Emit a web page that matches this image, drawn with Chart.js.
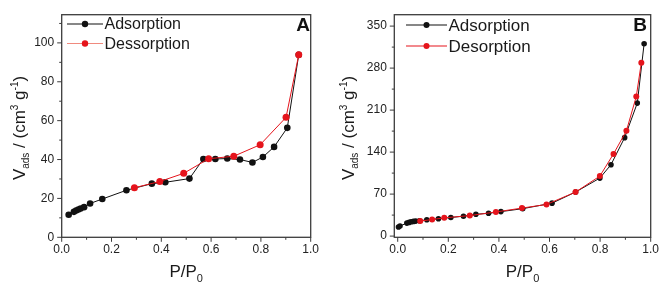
<!DOCTYPE html>
<html><head><meta charset="utf-8">
<script src="https://cdn.jsdelivr.net/npm/chart.js@4/dist/chart.umd.min.js"></script>
<style>
html,body{margin:0;padding:0;background:#fff;}
#wrap{position:relative;width:667px;height:288px;overflow:hidden;}
#ca{position:absolute;left:0;top:0;}
#cb{position:absolute;left:330px;top:0;}
</style></head><body>
<div id="wrap">
<canvas id="ca" width="330" height="288"></canvas>
<canvas id="cb" width="337" height="288"></canvas>
</div>
<script>
// ---- tick labels ----
const xTicks = [0, 0.2, 0.4, 0.6, 0.8, 1.0];
const xMinor = [0.1, 0.3, 0.5, 0.7, 0.9];
const aYTicks = [0, 20, 40, 60, 80, 100];
const aYMinor = [10, 30, 50, 70, 90, 110];
const bYTicks = [0, 70, 140, 210, 280, 350];
const bYMinor = [35, 105, 175, 245, 315];

// ---- panel A ----
const aAdsX = [0.028, 0.049, 0.058, 0.067, 0.076, 0.090, 0.114, 0.163, 0.260, 0.362, 0.416, 0.513, 0.569, 0.617, 0.665, 0.716, 0.766, 0.808, 0.853, 0.906, 0.952];
const aAdsY = [11.6, 13.1, 13.8, 14.3, 14.8, 15.5, 17.4, 19.7, 24.2, 27.6, 28.3, 30.2, 40.3, 40.3, 40.5, 40.0, 38.5, 41.3, 46.5, 56.3, 93.9];
const aDesX = [0.952, 0.901, 0.797, 0.691, 0.590, 0.490, 0.394, 0.292];
const aDesY = [93.9, 61.7, 47.6, 41.7, 40.4, 32.9, 28.7, 25.5];

// ---- panel B ----
const bAdsX = [0.003, 0.009, 0.036, 0.045, 0.053, 0.062, 0.071, 0.086, 0.115, 0.161, 0.210, 0.260, 0.309, 0.359, 0.408, 0.494, 0.610, 0.703, 0.799, 0.843, 0.897, 0.947, 0.974];
const bAdsY = [15.2, 16.8, 21.7, 22.8, 23.9, 24.5, 25.0, 25.5, 27.2, 28.8, 31.0, 33.2, 36.4, 38.0, 40.8, 45.7, 54.9, 73.4, 96.7, 119.0, 164.1, 221.7, 320.7];
const bDesX = [0.963, 0.943, 0.904, 0.853, 0.799, 0.703, 0.588, 0.491, 0.388, 0.285, 0.184, 0.136, 0.089];
const bDesY = [289.1, 232.6, 175.5, 137.0, 100.0, 73.4, 52.7, 46.7, 40.2, 34.2, 30.4, 27.7, 25.0];

const labelsA = ['Adsorption', 'Dessorption'];
const labelsB = ['Adsorption', 'Desorption'];

const FONT = '"Liberation Sans", Arial, sans-serif';
const BLACK = '#111111';
const RED = '#e5141c';
const AXIS = '#3c3c3c';

function pts(xs, ys){ return xs.map((x,i)=>({x:x, y:ys[i]})); }

function drawRich(ctx, segs, x, y){
  let total = 0;
  segs.forEach(s=>{ ctx.font = (s.bold?'bold ':'') + s.s + 'px ' + FONT; s.w = ctx.measureText(s.t).width; total += s.w; });
  let cx = x - total/2;
  segs.forEach(s=>{ ctx.font = (s.bold?'bold ':'') + s.s + 'px ' + FONT; ctx.fillText(s.t, cx, y + (s.dy||0)); cx += s.w; });
}

function decor(o){
  return {
    id: 'decor',
    afterDraw(chart){
      const ctx = chart.ctx, ca = chart.chartArea;
      const xs = chart.scales.x, ys = chart.scales.y;
      ctx.save();
      // frame
      ctx.strokeStyle = AXIS; ctx.lineWidth = 1.3;
      ctx.strokeRect(ca.left, ca.top, ca.right - ca.left, ca.bottom - ca.top);
      // ticks
      ctx.lineWidth = 1;
      const tick = (vals, len, isX) => {
        vals.forEach(v=>{
          ctx.beginPath();
          if (isX){ const p = xs.getPixelForValue(v); ctx.moveTo(p, ca.bottom); ctx.lineTo(p, ca.bottom + len); }
          else { const p = ys.getPixelForValue(v); ctx.moveTo(ca.left, p); ctx.lineTo(ca.left - len, p); }
          ctx.stroke();
        });
      };
      tick(xTicks, 4.5, true); tick(xMinor, 2.5, true);
      tick(o.yTicks, 4.5, false); tick(o.yMinor, 2.5, false);
      // titles
      ctx.fillStyle = '#1a1a1a';
      ctx.textBaseline = 'alphabetic';
      drawRich(ctx, [{t:'P/P', s:17}, {t:'0', s:11, dy:5}], (ca.left + ca.right)/2, 277);
      ctx.save();
      ctx.translate(o.yTitleX, (ca.top + ca.bottom)/2 + 2);
      ctx.rotate(-Math.PI/2);
      drawRich(ctx, [{t:'V', s:17}, {t:'ads', s:10, dy:4}, {t:' / (cm', s:17}, {t:'3', s:10, dy:-7}, {t:' g', s:17}, {t:'-1', s:10, dy:-7}, {t:')', s:17}], 0, 0);
      ctx.restore();
      // panel letter
      ctx.font = 'bold 19px ' + FONT; ctx.textAlign = 'right'; ctx.fillStyle = '#111';
      ctx.fillText(o.letter, o.letterX, 30.5);
      ctx.textAlign = 'left';
      // legend
      o.legend.forEach(r=>{
        ctx.strokeStyle = r.lineColor; ctx.lineWidth = 1.2;
        ctx.beginPath(); ctx.moveTo(o.lx0, r.y); ctx.lineTo(o.lx1, r.y); ctx.stroke();
        ctx.fillStyle = r.color;
        ctx.beginPath(); ctx.arc((o.lx0 + o.lx1)/2, r.y, o.lr, 0, Math.PI*2); ctx.fill();
        ctx.fillStyle = '#1a1a1a';
        ctx.font = o.lfs + 'px ' + FONT;
        ctx.fillText(r.text, o.lx1 + 1.5, r.base);
      });
      ctx.restore();
    }
  };
}

function makeChart(id, cfg){
  const tickFont = {family: FONT, size: 12};
  return new Chart(document.getElementById(id), {
    type: 'scatter',
    data: { datasets: [
      { label: cfg.names[0], data: pts(cfg.adsX, cfg.adsY), showLine: true, borderColor: BLACK, backgroundColor: BLACK,
        borderWidth: 1, pointRadius: cfg.r, pointBorderWidth: 0, pointBackgroundColor: BLACK, order: 2 },
      { label: cfg.names[1], data: pts(cfg.desX, cfg.desY), showLine: true, borderColor: RED, backgroundColor: RED,
        borderWidth: 1, pointRadius: cfg.r + 0.2, pointBorderWidth: 0, pointBackgroundColor: RED, order: 1 }
    ]},
    options: {
      responsive: false, animation: false, devicePixelRatio: 1,
      layout: { padding: { left: 0, right: cfg.padRight, top: cfg.padTop, bottom: 0 } },
      plugins: { legend: { display: false }, tooltip: { enabled: false } },
      scales: {
        x: { type: 'linear', min: cfg.xMin, max: 1.0,
          afterBuildTicks: s => { s.ticks = xTicks.map(v=>({value: v})); },
          afterFit: s => { s.height = 288 - 237.3; },
          ticks: { callback: v => v.toFixed(1), font: tickFont, color: '#222', padding: 5, maxRotation: 0, autoSkip: false },
          grid: { display: false, drawTicks: false }, border: { display: false } },
        y: { type: 'linear', min: cfg.yMin, max: cfg.yMax,
          afterBuildTicks: s => { s.ticks = cfg.yTicks.map(v=>({value: v})); },
          afterFit: s => { s.width = cfg.axisLeft; },
          ticks: { callback: v => String(v), font: tickFont, color: '#222', padding: 7.5, autoSkip: false },
          grid: { display: false, drawTicks: false }, border: { display: false } }
      }
    },
    plugins: [decor(cfg)]
  });
}

makeChart('ca', {
  names: labelsA, adsX: aAdsX, adsY: aAdsY, desX: aDesX, desY: aDesY, r: 3.3,
  xMin: 0, yMin: 0, yMax: 114.5, yTicks: aYTicks, yMinor: aYMinor,
  axisLeft: 61.7, padRight: 330 - 310.7, padTop: 11,
  yTitleX: 25, letter: 'A', letterX: 310,
  lx0: 67, lx1: 103, lr: 3.2, lfs: 16,
  legend: [ {y: 24, base: 29, color: BLACK, lineColor: BLACK, text: labelsA[0]},
            {y: 43.5, base: 49, color: RED, lineColor: '#f08a7e', text: labelsA[1]} ]
});
makeChart('cb', {
  names: labelsB, adsX: bAdsX, adsY: bAdsY, desX: bDesX, desY: bDesY, r: 2.8,
  xMin: -0.0135, yMin: -2, yMax: 369, yTicks: bYTicks, yMinor: bYMinor,
  axisLeft: 64.3, padRight: 337 - 320.7, padTop: 9.5,
  yTitleX: 23.5, letter: 'B', letterX: 317,
  lx0: 76, lx1: 117, lr: 3, lfs: 17,
  legend: [ {y: 25, base: 31, color: BLACK, lineColor: BLACK, text: labelsB[0]},
            {y: 46, base: 52, color: RED, lineColor: RED, text: labelsB[1]} ]
});
</script>
</body></html>
